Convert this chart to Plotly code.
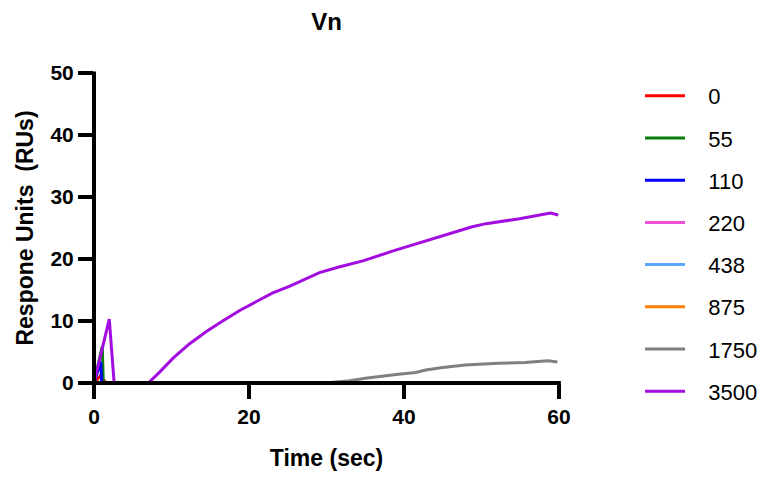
import plotly.graph_objects as go

# ---- data ----
labels = ["0", "55", "110", "220", "438", "875", "1750", "3500"]
colors = ["#FF0000", "#0A7D0A", "#0000FF", "#F04FD8", "#5AA8FF", "#FF8000", "#808080", "#A30CE0"]

t_0 = [0, 0.77, 1.6, 60]
y_0 = [0, 1.1, 0, 0]
t_55 = [0, 1.07, 1.2, 60]
y_55 = [0, 5.9, 0, 0]
t_110 = [0, 0.86, 1.0, 60]
y_110 = [0, 3.4, 0, 0]
t_220 = [0, 60]
y_220 = [0, 0]
t_438 = [0, 60]
y_438 = [0, 0]
t_875 = [0, 60]
y_875 = [0, 0]
t_1750 = [0, 29.9, 33.0, 35.0, 39.3, 41.5, 42.8, 45.0, 47.9, 50.0, 52.2, 55.6, 58.6, 59.8]
y_1750 = [0, 0, 0.35, 0.75, 1.4, 1.7, 2.1, 2.5, 2.9, 3.1, 3.2, 3.3, 3.6, 3.4]
t_3500 = [0, 1.97, 2.6, 7.0, 8.5, 10.2, 12.3, 14.5, 16.6, 18.8, 20.9, 23.0, 25.2, 27.4,
          29.1, 31.6, 34.7, 38.6, 42.0, 45.4, 48.8, 50.6, 54.9, 58.9, 59.9]
y_3500 = [0, 10.3, 0, 0, 1.8, 4.0, 6.3, 8.3, 10.0, 11.7, 13.1, 14.5, 15.6, 16.9,
          17.8, 18.7, 19.7, 21.3, 22.6, 23.8, 25.2, 25.7, 26.5, 27.4, 27.1]

series_t = [t_0, t_55, t_110, t_220, t_438, t_875, t_1750, t_3500]
series_y = [y_0, y_55, y_110, y_220, y_438, y_875, y_1750, y_3500]

x_ticks = [0, 20, 40, 60]
y_ticks = [0, 10, 20, 30, 40, 50]

fig = go.Figure()
for i, (lab, col) in enumerate(zip(labels, colors)):
    fig.add_trace(go.Scatter(
        x=series_t[i], y=series_y[i], mode="lines", name="   " + lab,
        line=dict(color=col, width=3), legendgroup=lab,
    ))

tick_font = dict(family="Arial", size=21, color="black", weight="bold")
title_font = dict(family="Arial", size=23, color="black", weight="bold")

fig.update_layout(
    width=763, height=477,
    margin=dict(l=94, r=204, t=73, b=94),
    plot_bgcolor="white", paper_bgcolor="white",
    title=dict(text="Vn", x=(94 + 559) / 2 / 763, xanchor="center", y=1 - 22 / 477, yanchor="middle",
               font=dict(family="Arial", size=24, color="black", weight="bold")),
    xaxis=dict(range=[0, 60], tickvals=x_ticks, ticks="outside", ticklen=15, tickwidth=4,
               tickcolor="black", showline=False, showgrid=False, zeroline=False,
               tickfont=tick_font,
               title=dict(text="Time (sec)", font=title_font, standoff=22)),
    yaxis=dict(range=[0, 50], tickvals=y_ticks, ticks="outside", ticklen=15, tickwidth=4,
               tickcolor="black", showline=False, showgrid=False, zeroline=False,
               tickfont=tick_font,
               title=dict(text="Respone Units  (RUs)", font=title_font, standoff=10)),
    legend=dict(xref="container", yref="container", x=640 / 763, y=1 - 75 / 477,
                xanchor="left", yanchor="top", traceorder="grouped", tracegroupgap=10.6,
                itemwidth=40, maxheight=470,
                font=dict(family="Arial", size=22, color="black")),
    shapes=[
        dict(type="line", xref="paper", yref="paper", x0=0, x1=1.004, y0=0, y1=0,
             line=dict(color="black", width=4), layer="above"),
        dict(type="line", xref="paper", yref="paper", x0=0, x1=0, y0=-15 / 310, y1=1.005,
             line=dict(color="black", width=4), layer="above"),
    ],
)

fig.write_html("out.html")
